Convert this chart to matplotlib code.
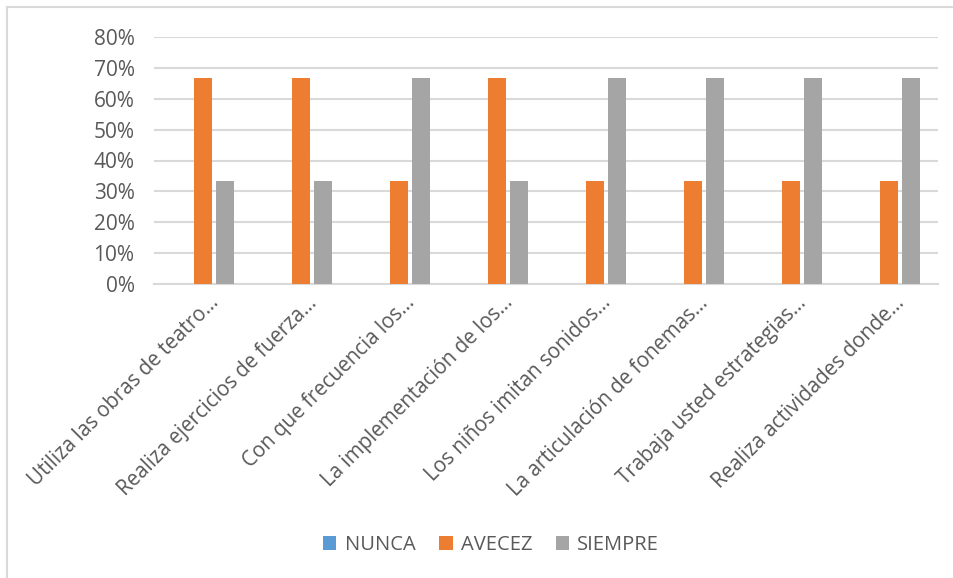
import matplotlib
matplotlib.use("Agg")
import matplotlib.pyplot as plt
import matplotlib.transforms as mtransforms
from matplotlib.ticker import PercentFormatter
import numpy as np

categories = [
    "Utiliza las obras de teatro…",
    "Realiza ejercicios de fuerza…",
    "Con que frecuencia los…",
    "La implementación de los…",
    "Los niños imitan sonidos…",
    "La articulación de fonemas…",
    "Trabaja usted estrategias…",
    "Realiza actividades donde…",
]
series_names = ["NUNCA", "AVECEZ", "SIEMPRE"]
nunca = [0, 0, 0, 0, 0, 0, 0, 0]
avecez = [0.6667, 0.6667, 0.3333, 0.6667, 0.3333, 0.3333, 0.3333, 0.3333]
siempre = [0.3333, 0.3333, 0.6667, 0.3333, 0.6667, 0.6667, 0.6667, 0.6667]
colors = ["#5B9BD5", "#ED7D31", "#A5A5A5"]

plt.rcParams['font.family'] = ['Open Sans', 'DejaVu Sans']

W, H = 954, 578
fig = plt.figure(figsize=(W / 100, H / 100), dpi=100)

left, right, top, bottom = 154, 938, 37, 284
ax = fig.add_axes([left / W, 1 - bottom / H, (right - left) / W, (bottom - top) / H])

x = np.arange(len(categories))
width = 0.18
offsets = [-0.225, 0.0, 0.225]
for vals, name, c, off in zip([nunca, avecez, siempre], series_names, colors, offsets):
    ax.bar(x + off, vals, width, color=c, label=name, zorder=3)

ax.set_xlim(-0.5, len(categories) - 0.5)
ax.set_ylim(0, 0.8)
ax.set_yticks(np.arange(0, 0.81, 0.1))
ax.yaxis.set_major_formatter(PercentFormatter(1.0, decimals=0))
ax.grid(axis='y', color='#D9D9D9', linewidth=1.5, zorder=0)
for s in ['top', 'right', 'left']:
    ax.spines[s].set_visible(False)
ax.spines['bottom'].set_color('#D9D9D9')
ax.spines['bottom'].set_linewidth(1.5)
ax.tick_params(axis='both', length=0, colors='#595959', labelsize=15)
ax.tick_params(axis='y', pad=14)
ax.set_xticks(x)
ax.set_xticklabels(categories, rotation=45, ha='right', rotation_mode='anchor',
                   fontsize=14.8, color='#595959')
ax.tick_params(axis='x', pad=6)
off = mtransforms.ScaledTranslation(5 / 100, 0, fig.dpi_scale_trans)
for lab in ax.get_xticklabels():
    lab.set_transform(lab.get_transform() + off)

leg = fig.legend(loc='center', bbox_to_anchor=(0.515, 1 - 545 / H), ncol=3,
                 frameon=False, fontsize=14.5, handlelength=0.65, handleheight=0.65,
                 handletextpad=0.4, columnspacing=1.2)
for t in leg.get_texts():
    t.set_color('#595959')

fig.add_artist(plt.Line2D([7 / W, 7 / W], [0, 1 - 7 / H], transform=fig.transFigure,
                          color='#D9D9D9', linewidth=1.5))
fig.add_artist(plt.Line2D([7 / W, 1], [1 - 7 / H, 1 - 7 / H], transform=fig.transFigure,
                          color='#D9D9D9', linewidth=1.5))

fig.savefig("out.png", dpi=100)
